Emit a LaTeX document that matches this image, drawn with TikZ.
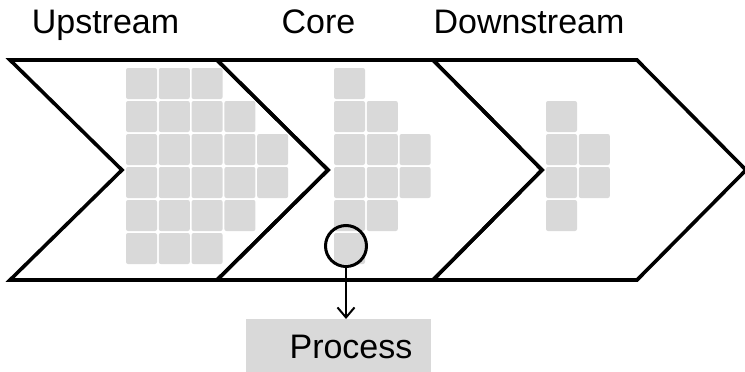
\documentclass[tikz,border=0pt]{standalone}
\usepackage{fontspec}
\setmainfont{Liberation Sans}
\usetikzlibrary{arrows.meta}
\definecolor{cellgray}{HTML}{D9D9D9}
\tikzset{
  chevron/.style={draw=black, line width=3.6pt, line join=miter},
  cell/.style={fill=cellgray, rounded corners=2pt},
  stagelabel/.style={anchor=base, inner sep=0pt, font=\fontsize{34}{40}\selectfont},
  marker/.style={circle, draw=black, line width=3pt, minimum size=41pt, inner sep=0pt},
  procbox/.style={fill=cellgray, minimum width=185pt, minimum height=53pt, inner sep=0pt},
  link/.style={line width=2pt, -{Straight Barb[length=10pt, width=17pt, line width=2pt]}}
}
\begin{document}
\begin{tikzpicture}[x=1pt, y=-1pt]
\useasboundingbox (0,0) rectangle (745,372);

% grey cell blocks inside each stage
\foreach \x/\ya/\yb in {126/0/5, 158.8/0/5, 191.6/0/5, 224.4/1/4, 257.2/2/3,
                         334/0/5, 366.8/1/4, 399.6/2/3,
                         546/1/4, 578.8/2/3}{
  \foreach \j in {\ya,...,\yb}{
    \fill[cell] (\x, {68+33*\j}) rectangle ++(31,31);
  }
}

% the three chevron stages
\draw[chevron] (10,60) -- (217,60) -- (328,170) -- (217,280) -- (10,280) -- (122,170) -- cycle;
\draw[chevron] (217,60) -- (433,60) -- (542,170) -- (433,280) -- (217,280) -- (328,170) -- cycle;
\draw[chevron] (433,60) -- (637,60) -- (746,170) -- (637,280) -- (433,280) -- (542,170) -- cycle;

% stage titles
\node[stagelabel] (up) at (105.5,33) {Upstream};
\node[stagelabel] (core) at (318.5,33) {Core};
\node[stagelabel] (down) at (529,33) {Downstream};

% highlighted cell and its process box
\node[marker] (sel) at (346,246) {};
\node[procbox, anchor=north west] (proc) at (246,319) {};
\node[stagelabel] (proctext) at (351,358) {Process};
\draw[link] (sel.south) -- (sel.south |- proc.north);
\end{tikzpicture}
\end{document}
